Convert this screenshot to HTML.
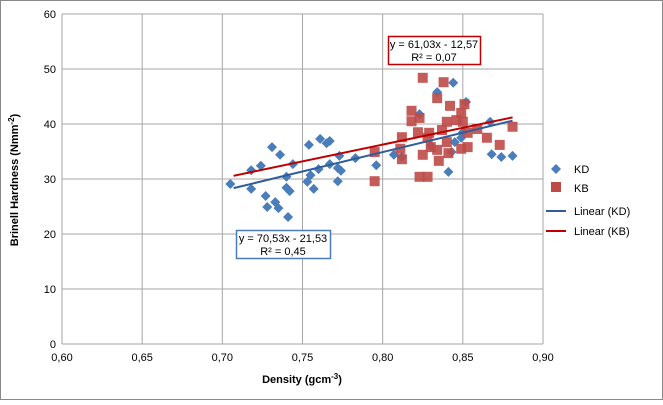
<!DOCTYPE html>
<html><head><meta charset="utf-8"><style>
body{margin:0;background:#fff;font-family:"Liberation Sans",sans-serif}
svg text{font-family:"Liberation Sans",sans-serif}
</style></head><body>
<svg id="c" width="663" height="400">
<rect x="0.5" y="0.5" width="662" height="399" fill="#fff" stroke="#888"/>
<g id="grid"></g><g id="marks"></g><g id="labels"></g>
</svg>
<script>
const xTicks=[0.60,0.65,0.70,0.75,0.80,0.85,0.90];
const yTicks=[0,10,20,30,40,50,60];
const kdX=[0.705,0.718,0.718,0.724,0.731,0.736,0.727,0.728,0.733,0.735,0.741,0.740,0.742,0.740,0.744,0.754,0.761,0.765,0.767,0.755,0.753,0.757,0.760,0.767,0.773,0.772,0.774,0.772,0.783,0.796,0.807,0.844,0.834,0.823,0.852,0.845,0.849,0.843,0.841,0.867,0.868,0.874,0.881,0.812,0.830,0.850];
const kdY=[29.1,31.6,28.2,32.4,35.8,34.4,26.9,24.9,25.8,24.7,23.1,28.4,27.8,30.4,32.7,36.2,37.3,36.5,36.9,30.7,29.5,28.2,31.8,32.7,34.2,32.0,31.5,29.6,33.8,32.5,34.4,47.5,45.8,41.8,44.0,36.7,37.5,34.9,31.3,40.4,34.5,34.0,34.2,34.0,36.0,38.5];
const kbX=[0.825,0.838,0.834,0.842,0.851,0.818,0.818,0.823,0.849,0.840,0.846,0.850,0.822,0.829,0.837,0.812,0.811,0.812,0.828,0.830,0.834,0.840,0.841,0.825,0.835,0.849,0.853,0.853,0.859,0.865,0.873,0.881,0.823,0.828,0.795,0.795];
const kbY=[48.4,47.6,44.7,43.3,43.6,42.4,40.5,41.1,42.0,40.4,40.7,40.4,38.5,38.4,38.9,37.6,35.5,33.6,37.5,35.8,35.3,36.7,34.7,34.4,33.3,35.5,35.8,38.4,39.1,37.5,36.2,39.5,30.4,30.4,29.6,34.9];
const kdFit=[70.53,-21.53], kbFit=[61.03,-12.57], fitRange=[0.707,0.881];
const X0=62,X1=543,Y0=344,Y1=14;
const sx=v=>X0+(v-0.6)/(0.3)*(X1-X0), sy=v=>Y0-(v/60)*(Y0-Y1);
const NS="http://www.w3.org/2000/svg";
function mk(t,a,p){const e=document.createElementNS(NS,t);for(const k in a)e.setAttribute(k,a[k]);p.appendChild(e);return e;}
const G=document.getElementById('grid'),M=document.getElementById('marks'),L=document.getElementById('labels');
yTicks.forEach(v=>{const l=mk('line',{x1:X0,x2:X1,y1:sy(v),y2:sy(v),stroke:'#a6a6a6'},G);


const t=mk('text',{x:X0-6,y:sy(v)+4,'text-anchor':'end','font-size':11,fill:'#000'},L);t.textContent=v;

});
xTicks.forEach(v=>{const l=mk('line',{x1:sx(v),x2:sx(v),y1:Y1,y2:Y0,stroke:'#a6a6a6'},G);


const t=mk('text',{x:sx(v),y:Y0+17,'text-anchor':'middle','font-size':11,fill:'#000'},L);t.textContent=v.toFixed(2).replace('.',',');

});
kdX.forEach((x,i)=>{const cx=sx(x),cy=sy(kdY[i]);const p=mk('polygon',{points:`${cx},${cy-5} ${cx+5},${cy} ${cx},${cy+5} ${cx-5},${cy}`,fill:'#4a7ebb'},M);

});
kbX.forEach((x,i)=>{const cx=sx(x),cy=sy(kbY[i]);const p=mk('rect',{x:cx-5,y:cy-5,width:10,height:10,fill:'#be4b48',opacity:0.9},M);

});
function fit(f,c,n){const l=mk('line',{x1:sx(fitRange[0]),y1:sy(f[0]*fitRange[0]+f[1]),x2:sx(fitRange[1]),y2:sy(f[0]*fitRange[1]+f[1]),stroke:c,'stroke-width':2},M);

}
fit(kdFit,'#2e5d9a','trendline-kd');fit(kbFit,'#c00000','trendline-kb');
</script>
<svg width="663" height="400" style="position:absolute;left:0;top:0">
<g><rect x="388.5" y="36.5" width="92" height="28" fill="#fff" stroke="#c00000" stroke-width="1.5"/>
<text x="434" y="48" text-anchor="middle" font-size="11">y = 61,03x - 12,57</text><text x="434" y="61" text-anchor="middle" font-size="11">R² = 0,07</text></g>
<g><rect x="236.5" y="230.5" width="94" height="28" fill="#fff" stroke="#4a7ebb" stroke-width="1.5"/>
<text x="283" y="242" text-anchor="middle" font-size="11">y = 70,53x - 21,53</text><text x="283" y="255" text-anchor="middle" font-size="11">R² = 0,45</text></g>
<text x="302" y="383" text-anchor="middle" font-size="11" font-weight="bold">Density (gcm<tspan font-size="8" dy="-4">-3</tspan><tspan dy="4">)</tspan></text>
<text transform="translate(18,180) rotate(-90)" text-anchor="middle" font-size="11" font-weight="bold">Brinell Hardness (Nmm<tspan font-size="8" dy="-4">-2</tspan><tspan dy="4">)</tspan></text>
<g>
<polygon points="556,164 561,169 556,174 551,169" fill="#4a7ebb"/><text x="574" y="173" font-size="11">KD</text>
<rect x="551" y="182" width="10" height="10" fill="#be4b48"/><text x="574" y="192" font-size="11">KB</text>
<line x1="546" x2="566" y1="211" y2="211" stroke="#2e5d9a" stroke-width="2"/><text x="574" y="215" font-size="11">Linear (KD)</text>
<line x1="546" x2="566" y1="231" y2="231" stroke="#c00000" stroke-width="2"/><text x="574" y="235" font-size="11">Linear (KB)</text>
</g></svg>
</body></html>
